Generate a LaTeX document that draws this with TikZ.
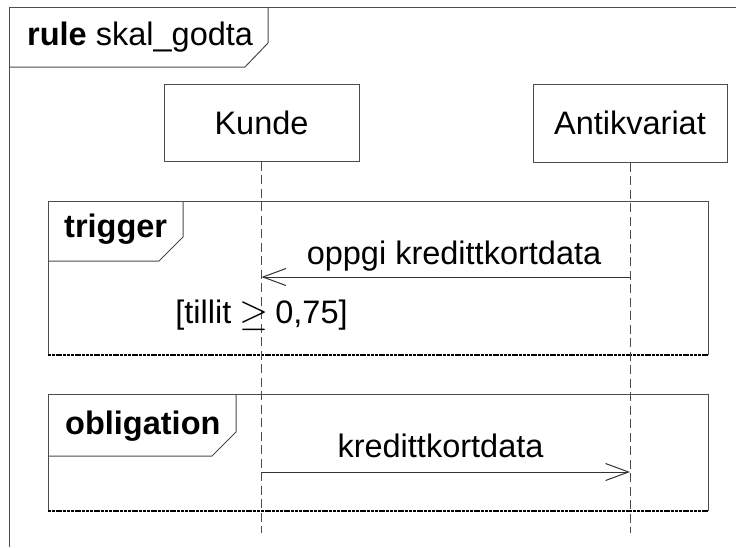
\documentclass[tikz,border=0pt]{standalone}
\usepackage{fontspec}
\setmainfont{Liberation Sans}
\usetikzlibrary{arrows.meta}
\tikzset{
  frameline/.style={draw=black!70, line width=1pt},
  endline/.style={draw=black, line width=2pt, dash pattern=on 3pt off 0.8pt},
  lifeline/.style={draw=black!70, line width=1pt, dash pattern=on 9pt off 4.5pt},
  actor/.style={draw=black!70, line width=1pt, fill=white, inner sep=0pt,
    font=\fontsize{32.5}{39}\selectfont},
  msg/.style={draw=black!80, line width=1pt,
    -{Straight Barb[length=23pt,width=17pt,line width=1pt]}},
  lbl/.style={inner sep=0pt, anchor=base, font=\fontsize{32.5}{39}\selectfont},
  lblw/.style={inner sep=0pt, anchor=base west, font=\fontsize{32.5}{39}\selectfont},
}
\begin{document}
\begin{tikzpicture}[x=1pt,y=-1pt]
\useasboundingbox[fill=white] (0,0) rectangle (736,547);
% outer frame
\draw[frameline] (9,547) -- (9,7) -- (736,7);
\draw[frameline] (268,7) -- (268,43) -- (245,67) -- (9,67);
\node[lblw] (rulelbl) at (27,45) {\textbf{rule} skal\_godta};
% actors
\node[actor, minimum width=195pt, minimum height=77pt] (kunde) at (261.5,122.5) {Kunde};
\node[actor, minimum width=194pt, minimum height=78pt] (antik) at (630,123) {Antikvariat};
% trigger fragment
\draw[frameline] (48,355) -- (48,201) -- (708,201) -- (708,355);
\draw[endline] (48,355) -- (708,355);
\draw[frameline] (183,201) -- (183,237) -- (159,261) -- (48,261);
\node[lblw] (trig) at (64,237) {\textbf{trigger}};
% obligation fragment
\draw[frameline] (48,511) -- (48,394) -- (708,394) -- (708,511);
\draw[endline] (48,511) -- (708,511);
\draw[frameline] (236,394) -- (236,432) -- (212,456) -- (48,456);
\node[lblw] (oblig) at (65,434) {\textbf{obligation}};
% lifelines
\coordinate (kend) at (261.5,533);
\coordinate (aend) at (630,533);
\draw[lifeline] (kunde.south) -- (kend);
\draw[lifeline] (antik.south) -- (aend);
% messages
\coordinate (a1) at (630,277);
\coordinate (k1) at (261.5,277);
\draw[msg] (a1) -- (k1);
\node[lbl] (guard) at (261.5,323) {[tillit\hspace{-1pt} \raisebox{-2pt}{\scalebox{1.5}{$\geq$}}\hspace{-2pt} 0,75]};
\node[lbl] (m1) at (454,264) {oppgi kredittkortdata};
\coordinate (k2) at (261.5,472);
\coordinate (a2) at (630,472);
\draw[msg] (k2) -- (a2);
\node[lbl] (m2) at (440.5,457) {kredittkortdata};
\end{tikzpicture}
\end{document}
